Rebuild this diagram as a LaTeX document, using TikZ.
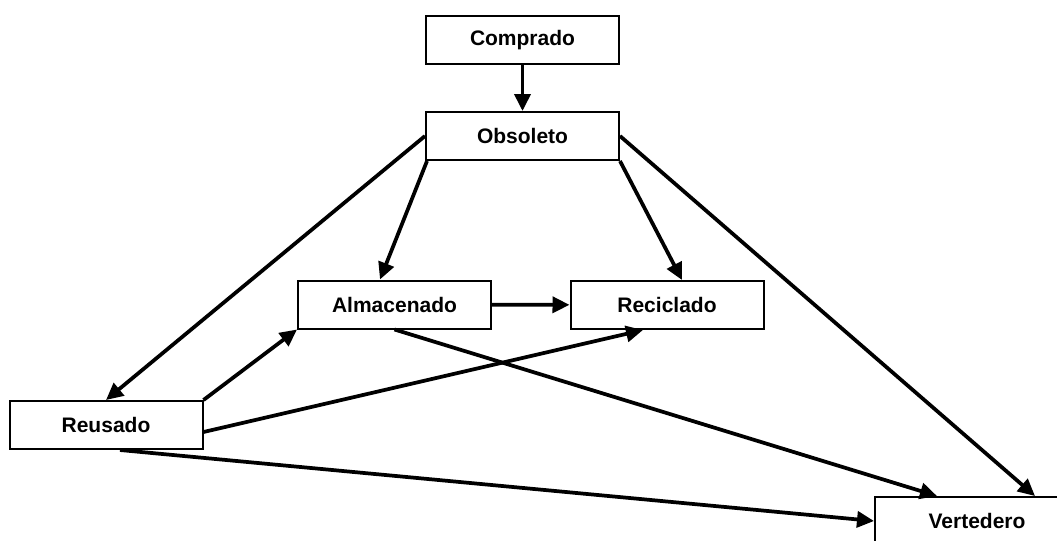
\documentclass[tikz,border=0pt]{standalone}
\usepackage{fontspec}
\setmainfont{Liberation Sans}
\usepackage{tikz}
\usetikzlibrary{arrows.meta,calc,positioning}

\tikzset{
  stage/.style={draw,line width=1.5pt,minimum width=144.75pt,minimum height=36pt,
    inner sep=0pt,font=\fontsize{15.75}{18}\selectfont\bfseries}
}

\begin{document}
\begin{tikzpicture}[x=0.75pt,y=-0.75pt,>={Triangle[length=12.75pt,width=12pt]},line width=2.8pt]
			\useasboundingbox (0,0) rectangle (1057,540);
			\clip (0,0) rectangle (1057,540);
			\node[stage] (com) at (522.5,40) {Comprado};
			\node[stage] (obs) at (522.5,136) {Obsoleto};
			\node[stage] (alm) at (394.5,304.5) {Almacenado};
			\node[stage] (rec) at (667,305) {Reciclado};
			\node[stage] (reu) at (106,425) {Reusado};
			\node[stage,minimum width=153pt] (ver) at (977,521) {Vertedero};
			\path[->]
				(com) edge (obs)
				(obs.west) edge (reu.north)
				($(obs.south west)+(2,0)$) edge ($(alm.north)+(-14.5,0)$)
				(obs.south east) edge ($(rec.north)+(15,0)$)
				(obs.east) edge ($(ver.north)+(58,0)$)
				(alm) edge (rec)
				(alm.south) edge ($(ver.north)+(-40,0)$)
				(reu.north east) edge (alm.south west)
				($(reu.east)+(0,7)$) edge ($(rec.south)+(-24,0)$)
				($(reu.south)+(14,0)$) edge (ver.west);
		\end{tikzpicture}
\end{document}
